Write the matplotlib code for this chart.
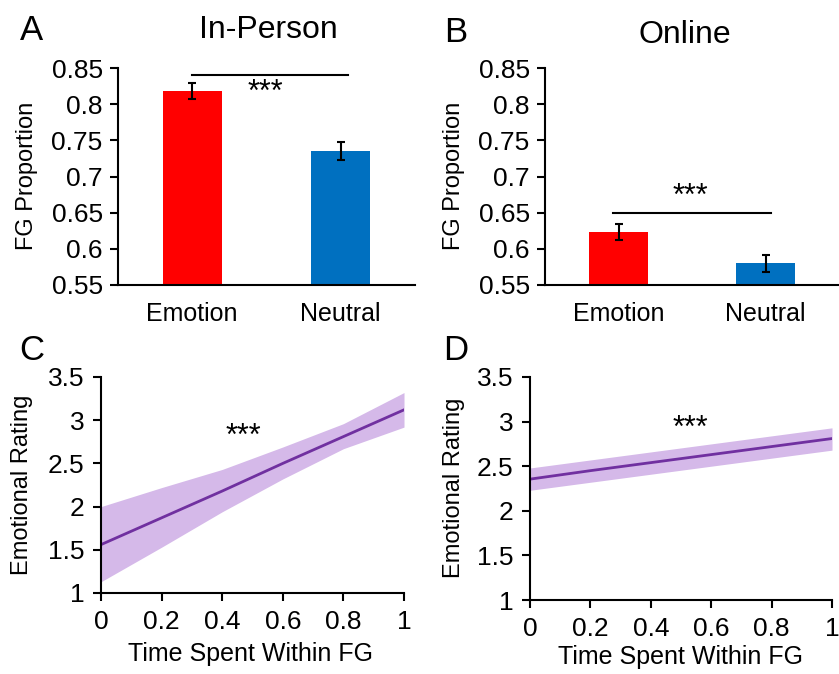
import numpy as np
import matplotlib.pyplot as plt

plt.rcParams['font.family'] = ['Liberation Sans', 'DejaVu Sans']

# bar data (FG proportion, mean and SE)
conditions = ['Emotion', 'Neutral']
inperson_mean = [0.818, 0.735]
inperson_se = [0.011, 0.0125]
online_mean = [0.623, 0.580]
online_se = [0.011, 0.012]
bar_colors = ['#FF0000', '#0070C0']

# regression fits: emotional rating vs time in FG
fit_x = [0, 0.2, 0.4, 0.6, 0.8, 1.0]
inperson_fit = [1.56, 1.87, 2.18, 2.50, 2.81, 3.12]
inperson_upper = [2.00, 2.22, 2.43, 2.69, 2.96, 3.32]
inperson_lower = [1.13, 1.53, 1.94, 2.32, 2.67, 2.92]
online_fit = [2.355, 2.45, 2.54, 2.63, 2.72, 2.81]
online_upper = [2.48, 2.57, 2.66, 2.75, 2.84, 2.93]
online_lower = [2.23, 2.32, 2.41, 2.50, 2.59, 2.68]

TICK_FS = 19
LABEL_FS = 17
STAR_FS = 22

fig = plt.figure(figsize=(8.39, 6.74), dpi=100)
W, H = 839, 674


def box(l, t, r, b):
    return [l / W, 1 - b / H, (r - l) / W, (b - t) / H]


def bar_panel(ax, means, ses, sig_y, star_y):
    x = np.arange(len(conditions))
    ax.bar(x, means, width=0.4, color=bar_colors, zorder=2)
    ax.errorbar(x, means, yerr=ses, fmt='none', ecolor='black',
                elinewidth=1.5, capsize=3, capthick=1.5, zorder=3)
    ax.set_xlim(-0.5, 1.5)
    ax.set_ylim(0.55, 0.85)
    ax.set_yticks([0.55, 0.6, 0.65, 0.7, 0.75, 0.8, 0.85])
    ax.set_yticklabels(['0.55', '0.6', '0.65', '0.7', '0.75', '0.8', '0.85'])
    ax.set_xticks(x)
    ax.set_xticklabels(conditions)
    ax.tick_params(axis='x', length=0, pad=12, labelsize=LABEL_FS + 1)
    ax.tick_params(axis='y', length=6, width=1.5, pad=5, labelsize=TICK_FS)
    for s in ['top', 'right']:
        ax.spines[s].set_visible(False)
    for s in ['left', 'bottom']:
        ax.spines[s].set_linewidth(1.5)
    ax.plot(sig_y[0], [sig_y[1]] * 2, color='black', lw=1.5, clip_on=False)
    ax.text(0.49, star_y, '***', ha='center', va='center', fontsize=STAR_FS)


def fit_panel(ax, fit, upper, lower, star_xy):
    ax.fill_between(fit_x, lower, upper, color='#D5B9E9', lw=0)
    ax.plot(fit_x, fit, color='#7030A0', lw=2)
    ax.set_xlim(0, 1)
    ax.set_ylim(1, 3.5)
    ax.set_xticks([0, 0.2, 0.4, 0.6, 0.8, 1])
    ax.set_xticklabels(['0', '0.2', '0.4', '0.6', '0.8', '1'])
    ax.set_yticks([1, 1.5, 2, 2.5, 3, 3.5])
    ax.set_yticklabels(['1', '1.5', '2', '2.5', '3', '3.5'])
    ax.tick_params(length=6, width=1.5, pad=6, labelsize=TICK_FS)
    for s in ['top', 'right']:
        ax.spines[s].set_visible(False)
    for s in ['left', 'bottom']:
        ax.spines[s].set_linewidth(1.5)
    ax.text(star_xy[0], star_xy[1], '***', ha='center', va='center', fontsize=STAR_FS)


axA = fig.add_axes(box(118, 68, 415, 285))
bar_panel(axA, inperson_mean, inperson_se, ([0, 1.05], 0.840), 0.815)
axB = fig.add_axes(box(545, 68, 839, 285))
bar_panel(axB, online_mean, online_se, ([-0.04, 1.04], 0.649), 0.672)

axC = fig.add_axes(box(101, 377, 404, 593))
fit_panel(axC, inperson_fit, inperson_upper, inperson_lower, (0.47, 2.81))
axD = fig.add_axes(box(530, 377, 832, 600))
fit_panel(axD, online_fit, online_upper, online_lower, (0.53, 2.92))

# axis labels
for xpix, ypix, txt in [(27, 176, 'FG Proportion'), (454, 176, 'FG Proportion'),
                        (22, 485, 'Emotional Rating'), (454, 488, 'Emotional Rating')]:
    fig.text(xpix / W, 1 - ypix / H, txt, rotation=90, ha='center', va='center',
             fontsize=LABEL_FS)
for xpix, ypix in [(250, 654), (681, 657)]:
    fig.text(xpix / W, 1 - ypix / H, 'Time Spent Within FG', ha='center', va='center',
             fontsize=LABEL_FS + 1)

# titles and panel letters
fig.text(268 / W, 1 - 30 / H, 'In-Person', ha='center', va='center', fontsize=23)
fig.text(685 / W, 1 - 35 / H, 'Online', ha='center', va='center', fontsize=23)
for xpix, ypix, letter in [(31, 30, 'A'), (456, 33, 'B'), (32, 350, 'C'), (456, 350, 'D')]:
    fig.text(xpix / W, 1 - ypix / H, letter, ha='center', va='center', fontsize=25)

fig.savefig('out.png', dpi=100)
